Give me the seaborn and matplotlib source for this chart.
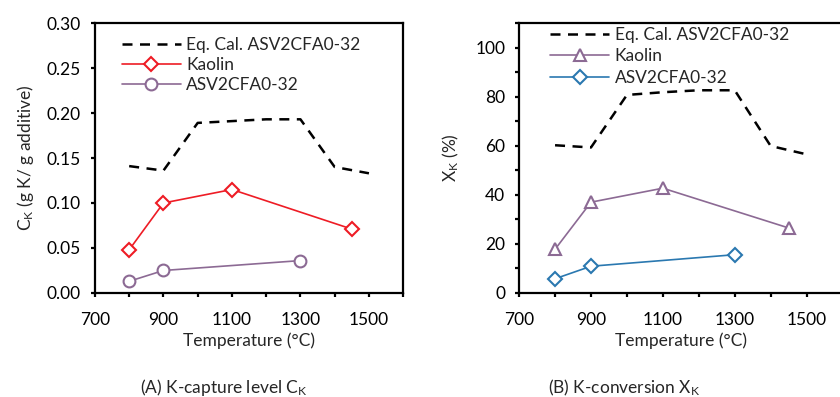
import matplotlib
matplotlib.use("Agg")
import matplotlib.pyplot as plt
import seaborn as sns
import pandas as pd
from matplotlib.ticker import MultipleLocator, FixedLocator, FormatStrFormatter

sns.set_style("ticks")
plt.rcParams['font.family'] = ['Lato', 'DejaVu Sans']
plt.rcParams['mathtext.fontset'] = 'custom'
plt.rcParams['mathtext.rm'] = 'Lato'
plt.rcParams['mathtext.it'] = 'Lato'

# Panel A: K-capture level C_K (g K / g additive)
eq_temp = [800, 900, 1000, 1100, 1200, 1300, 1400, 1500]
eq_ck = [0.141, 0.136, 0.189, 0.191, 0.193, 0.193, 0.140, 0.133]
kaolin_temp = [800, 900, 1100, 1450]
kaolin_ck = [0.048, 0.100, 0.115, 0.071]
asv_temp = [800, 900, 1300]
asv_ck = [0.013, 0.025, 0.036]

# Panel B: K-conversion X_K (%)
eq_xk = [60.2, 59.3, 80.7, 81.8, 82.6, 82.6, 59.9, 56.5]
kaolin_xk = [17.8, 37.0, 42.7, 26.5]
asv_xk = [5.8, 10.9, 15.6]

eq_label = "Eq. Cal. ASV2CFA0-32"
kaolin_label = "Kaolin"
asv_label = "ASV2CFA0-32"

red = "#ee1c25"
purple = "#8c6a94"
blue = "#2a78b0"

FS = 12.5

fig = plt.figure(figsize=(8.4, 3.97), dpi=100)
axA = fig.add_axes([0.113, 0.262, 0.367, 0.680])
axB = fig.add_axes([0.618, 0.262, 0.385, 0.680])

def style(ax):
    for s in ax.spines.values():
        s.set_linewidth(1.6)
        s.set_color("black")
        s.set_visible(True)
    ax.tick_params(which="both", direction="out", length=3, width=1.6,
                   labelsize=FS, colors="black")
    ax.tick_params(axis="x", which="both", pad=11)
    ax.tick_params(axis="y", which="both", pad=7)
    ax.set_xlim(700, 1600)
    ax.xaxis.set_major_locator(FixedLocator([700, 900, 1100, 1300, 1500]))
    ax.xaxis.set_minor_locator(FixedLocator([800, 1000, 1200, 1400, 1600]))
    ax.set_xlabel("Temperature (°C)", fontsize=FS, labelpad=3)

# Panel A
sns.lineplot(x=eq_temp, y=eq_ck, ax=axA, color="black", linestyle=(0, (4, 3)),
             linewidth=1.8, label=eq_label)
sns.lineplot(x=kaolin_temp, y=kaolin_ck, ax=axA, color=red, linewidth=1.2,
             marker="D", markersize=7.5, markerfacecolor="white",
             markeredgecolor=red, markeredgewidth=1.5, label=kaolin_label)
sns.lineplot(x=asv_temp, y=asv_ck, ax=axA, color=purple, linewidth=1.2,
             marker="o", markersize=8.5, markerfacecolor="white",
             markeredgecolor=purple, markeredgewidth=1.5, label=asv_label)
axA.set_ylim(0, 0.30)
axA.yaxis.set_major_locator(MultipleLocator(0.05))
axA.yaxis.set_major_formatter(FormatStrFormatter("%.2f"))
axA.set_ylabel("C$_\\mathregular{K}$ (g K/ g additive)", fontsize=FS, labelpad=8)
style(axA)
axA.legend(loc="upper left", bbox_to_anchor=(0.065, 0.975), frameon=False,
           fontsize=FS, handlelength=3.4, handletextpad=0.3, labelspacing=0.25,
           borderaxespad=0)

# Panel B
sns.lineplot(x=eq_temp, y=eq_xk, ax=axB, color="black", linestyle=(0, (4, 3)),
             linewidth=1.8, label=eq_label)
sns.lineplot(x=kaolin_temp, y=kaolin_xk, ax=axB, color=purple, linewidth=1.2,
             marker="^", markersize=9, markerfacecolor="white",
             markeredgecolor=purple, markeredgewidth=1.5, label=kaolin_label)
sns.lineplot(x=asv_temp, y=asv_xk, ax=axB, color=blue, linewidth=1.2,
             marker="D", markersize=7.5, markerfacecolor="white",
             markeredgecolor=blue, markeredgewidth=1.5, label=asv_label)
axB.set_ylim(0, 110)
axB.yaxis.set_major_locator(MultipleLocator(20))
axB.yaxis.set_minor_locator(MultipleLocator(10))
axB.set_ylabel("X$_\\mathregular{K}$ (%)", fontsize=FS, labelpad=10)
style(axB)
axB.spines["right"].set_visible(False)
axB.legend(loc="upper left", bbox_to_anchor=(0.075, 1.01), frameon=False,
           fontsize=FS, handlelength=3.4, handletextpad=0.3, labelspacing=0.3,
           borderaxespad=0)

fig.text(224 / 840, 1 - 388 / 397, "(A) K-capture level C$_\\mathregular{K}$",
         ha="center", va="center", fontsize=FS)
fig.text(624 / 840, 1 - 388 / 397, "(B) K-conversion X$_\\mathregular{K}$",
         ha="center", va="center", fontsize=FS)

fig.savefig("out.png", dpi=100)
